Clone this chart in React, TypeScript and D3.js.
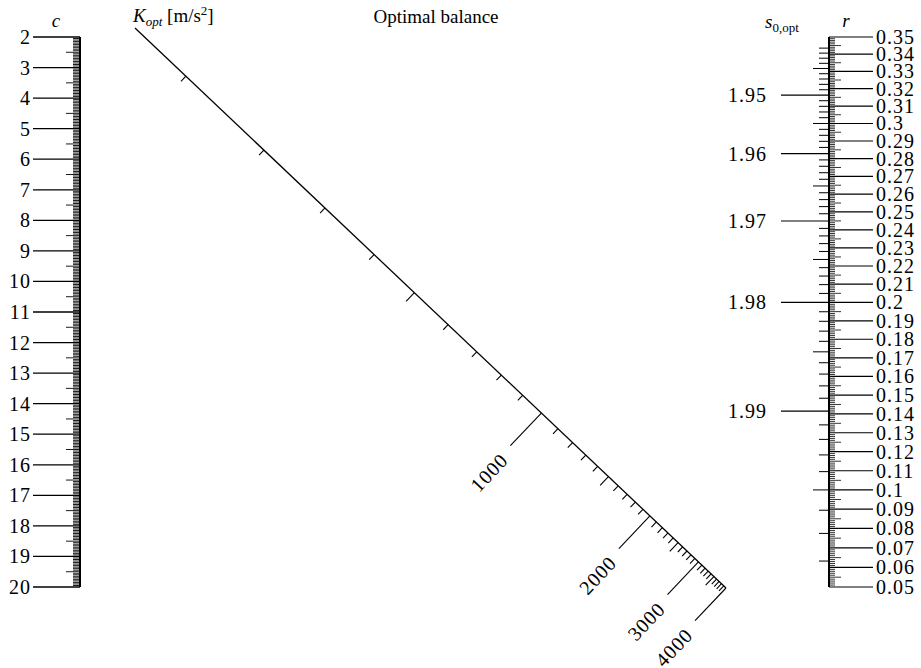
import React from 'react';
import * as d3 from 'd3';

const W = 921;
const H = 668;

// Tick labels / values
const cLabels = [2, 3, 4, 5, 6, 7, 8, 9, 10, 11, 12, 13, 14, 15, 16, 17, 18, 19, 20];
const rLabels = [0.35, 0.34, 0.33, 0.32, 0.31, 0.3, 0.29, 0.28, 0.27, 0.26, 0.25, 0.24, 0.23, 0.22, 0.21, 0.2,
  0.19, 0.18, 0.17, 0.16, 0.15, 0.14, 0.13, 0.12, 0.11, 0.1, 0.09, 0.08, 0.07, 0.06, 0.05];
const sLabels = [1.95, 1.96, 1.97, 1.98, 1.99];
const kLabels = [1000, 2000, 3000, 4000];
const kRange = [47, 4000];
const rRange = [0.35, 0.05];
const cRange = [2, 20];

const FONT = "'Liberation Serif', 'Times New Roman', Times, serif";

// c scale (linear)
const cY = d3.scaleLinear().domain(cRange).range([37, 587]);

// r scale (slightly projective)
const M = -0.067;
const rWarp = (r: number) => {
  const u = (rRange[0] - r) / (rRange[0] - rRange[1]);
  return (u * (1 + M)) / (1 + M * u);
};
const rLin = d3.scaleLinear().domain([0, 1]).range([37, 587]);
const rY = (r: number) => rLin(rWarp(r));
// s0,opt is a function of r on the same support
const sToR = (s: number) => Math.sqrt(2 * (2 - s));
const sY = (s: number) => rY(sToR(s));

// K scale (projective along diagonal)
const KB = 620;
const gK = (k: number) => k / (k + KB);
const P0 = [135, 28];
const P1 = [726, 588];
const LEN = Math.hypot(P1[0] - P0[0], P1[1] - P0[1]);
const DIR = [(P1[0] - P0[0]) / LEN, (P1[1] - P0[1]) / LEN];
const NRM = [-DIR[1], DIR[0]]; // lower-left side
const kT = d3.scaleLinear().domain([gK(kRange[0]), gK(kRange[1])]).range([0, LEN]);
const kPt = (k: number) => {
  const t = kT(gK(k));
  return [P0[0] + DIR[0] * t, P0[1] + DIR[1] * t];
};
const kAngle = (Math.atan2(-NRM[1], -NRM[0]) * 180) / Math.PI;

const AX = 80; // c axis x
const RX = 829; // r / s axis x
const FS = 20;
const LS = 1;

export default function App() {
  const cMinor = d3.range(cRange[0], cRange[1] + 1e-9, 0.05).filter(v => Math.abs(v - Math.round(v)) > 1e-6);
  const rMinor = d3.range(50, 351, 1).map(v => v / 1000).filter(v => Math.round(v * 1000) % 10 !== 0);
  const sTicks = d3.range(1941, 1999, 1).map(v => v / 1000)
    .filter(s => { const r = sToR(s); return r >= 0.05 && r <= 0.35; });
  const kTicks = d3.range(100, 4001, 100);
  const tStyle = { fontFamily: FONT };

  return (
    <svg width={W} height={H} style={{ position: 'absolute', left: 0, top: 0, background: '#fff', fontFamily: FONT }}>
      <rect x={0} y={0} width={W} height={H} fill="#fff" />
      {/* Title */}
      <text style={tStyle} x={436} y={23} fontSize={19} textAnchor="middle">Optimal balance</text>

      {/* c axis */}
      <text style={tStyle} x={56} y={27} fontSize={19} fontStyle="italic" textAnchor="middle">c</text>
      <line x1={AX} x2={AX} y1={cY(2)} y2={cY(20)} stroke="#000" strokeWidth={2} />
      {cMinor.map((v, i) => {
        const half = Math.abs(v * 2 - Math.round(v * 2)) < 1e-6;
        return <line key={'cm' + i} x1={AX - (half ? 14 : 7)} x2={AX} y1={cY(v)} y2={cY(v)} stroke="#000" strokeWidth={0.9} />;
      })}
      {cLabels.map(v => (
        <g key={'c' + v}>
          <line x1={33} x2={AX} y1={cY(v)} y2={cY(v)} stroke="#000" strokeWidth={1.3} />
          <text style={tStyle} x={31} y={cY(v)} fontSize={FS} letterSpacing={LS} textAnchor="end" dominantBaseline="central">{v}</text>
        </g>
      ))}

      {/* K axis (diagonal) */}
      <text style={tStyle} x={133} y={22} fontSize={19}>
        <tspan fontStyle="italic">K</tspan>
        <tspan fontStyle="italic" fontSize={13} dy={4}>opt</tspan>
        <tspan dy={-4}> [m/s</tspan>
        <tspan fontSize={13} dy={-7}>2</tspan>
        <tspan dy={7}>]</tspan>
      </text>
      <line x1={P0[0]} y1={P0[1]} x2={P1[0]} y2={P1[1]} stroke="#000" strokeWidth={1.3} />
      {kTicks.map(k => {
        const p = kPt(k);
        const len = k % 1000 === 0 ? 45 : k % 500 === 0 ? 12 : 7;
        return <line key={'k' + k} x1={p[0]} y1={p[1]} x2={p[0] + NRM[0] * len} y2={p[1] + NRM[1] * len}
          stroke="#000" strokeWidth={1.1} />;
      })}
      {kLabels.map(k => {
        const p = kPt(k);
        const x = p[0] + NRM[0] * 57 + DIR[0] * 3;
        const y = p[1] + NRM[1] * 57 + DIR[1] * 3;
        return <text style={tStyle} key={'kl' + k} x={x} y={y} fontSize={FS} letterSpacing={LS} textAnchor="end" dominantBaseline="central"
          transform={`rotate(${kAngle},${x},${y})`}>{k}</text>;
      })}

      {/* r / s0,opt axis */}
      <text style={tStyle} x={765} y={28} fontSize={19}>
        <tspan fontStyle="italic">s</tspan>
        <tspan fontSize={13} dy={4}>0,opt</tspan>
      </text>
      <text style={tStyle} x={846} y={27} fontSize={19} fontStyle="italic" textAnchor="middle">r</text>
      <line x1={RX} x2={RX} y1={rY(0.35)} y2={rY(0.05)} stroke="#000" strokeWidth={2} />
      {rMinor.map((v, i) => {
        const mid = Math.round(v * 1000) % 5 === 0;
        return <line key={'rm' + i} x1={RX} x2={RX + (mid ? 12 : 6)} y1={rY(v)} y2={rY(v)} stroke="#000" strokeWidth={0.8} />;
      })}
      {rLabels.map(v => (
        <g key={'r' + v}>
          <line x1={RX} x2={873} y1={rY(v)} y2={rY(v)} stroke="#000" strokeWidth={1.2} />
          <text style={tStyle} x={876} y={rY(v)} fontSize={FS} letterSpacing={LS} dominantBaseline="central">{v}</text>
        </g>
      ))}
      {sTicks.map((s, i) => {
        const k = Math.round(s * 1000);
        const major = k % 10 === 0;
        const mid = k % 5 === 0;
        const x1 = major ? 781 : mid ? 813 : 819;
        return <line key={'s' + i} x1={x1} x2={RX} y1={sY(s)} y2={sY(s)} stroke="#000" strokeWidth={major ? 1.2 : 1} />;
      })}
      {sLabels.map(s => (
        <text style={tStyle} key={'sl' + s} x={767} y={sY(s)} fontSize={FS} letterSpacing={LS} textAnchor="end" dominantBaseline="central">{s}</text>
      ))}
    </svg>
  );
}
